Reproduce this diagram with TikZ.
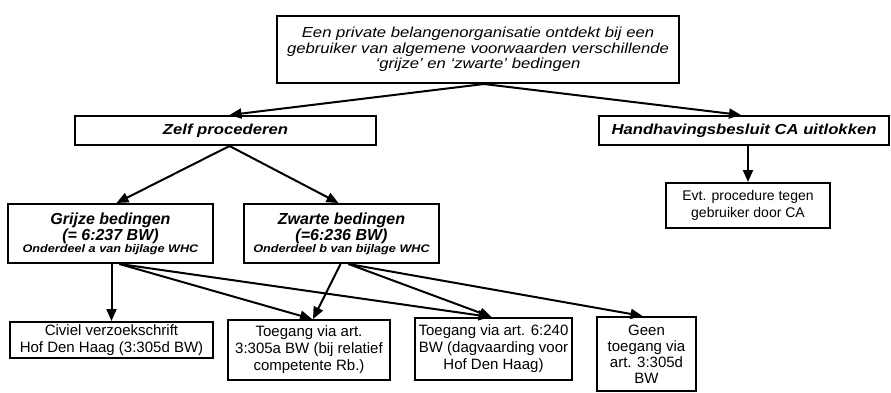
\documentclass[tikz,border=0pt]{standalone}
\usepackage{fontspec}
\setmainfont{Liberation Sans}
\newfontfamily\widefont[FakeStretch=1.15]{Liberation Sans}
\usetikzlibrary{shapes,arrows,arrows.meta}
\tikzstyle{block} = [rectangle, draw, line width=2pt, align=center,
    inner sep=0pt]
\tikzstyle{head} = [block, font=\fontsize{14.5}{17}\selectfont\widefont\bfseries\itshape]
\tikzstyle{rule} = [block, font=\bfseries\itshape]
\tikzstyle{leaf} = [block, font=\fontsize{15}{17}\selectfont]
\tikzstyle{line} = [draw, line width=2pt, -{Triangle[length=12pt,width=10pt]}]

\begin{document}
\begin{tikzpicture}[x=1pt, y=-1pt]
    \useasboundingbox (0,0) rectangle (891,392);
    % Place nodes
    \node [block, minimum width=402pt, minimum height=67pt,
        font=\fontsize{14.5}{15.5}\selectfont\widefont\itshape] (init) at (478,49.5)
        {Een private belangenorganisatie ontdekt bij een\\
         gebruiker van algemene voorwaarden verschillende\\
         ‘grijze’ en ‘zwarte’ bedingen};
    \node [head, minimum width=301pt, minimum height=29pt] (zelf) at (225.5,130.5) {Zelf procederen};
    \node [head, minimum width=290pt, minimum height=29pt] (ca) at (744,130.5) {Handhavingsbesluit CA uitlokken};
    \node [leaf, minimum width=164pt, minimum height=45pt,
        font=\fontsize{14}{17}\selectfont] (evt) at (748,205.5)
        {Evt. procedure tegen\\ gebruiker door CA};
    \node [rule, minimum width=205pt, minimum height=59pt] (grijs) at (110.5,233.5)
        {\fontsize{16}{17}\selectfont Grijze bedingen\\
         \fontsize{16}{16}\selectfont (= 6:237 BW)\\
         \fontsize{11}{15}\selectfont\widefont Onderdeel a van bijlage WHC};
    \node [rule, minimum width=195pt, minimum height=59pt] (zwart) at (341.5,233.5)
        {\fontsize{16}{17}\selectfont Zwarte bedingen\\
         \fontsize{16}{16}\selectfont (=6:236 BW)\\
         \fontsize{11}{15}\selectfont\widefont Onderdeel b van bijlage WHC};
    \node [leaf, minimum width=203pt, minimum height=36pt] (civiel) at (111.5,340)
        {Civiel verzoekschrift\\ Hof Den Haag (3:305d BW)};
    \node [leaf, minimum width=162pt, minimum height=60pt] (rb) at (309,350)
        {Toegang via art.\\ 3:305a BW (bij relatief\\ competente Rb.)};
    \node [leaf, minimum width=157pt, minimum height=62pt] (hof) at (493.5,349)
        {Toegang via art. 6:240\\ BW (dagvaarding voor\\ Hof Den Haag)};
    \node [leaf, minimum width=99pt, minimum height=74pt,
        font=\fontsize{15}{16}\selectfont] (geen) at (646.5,354)
        {Geen\\ toegang via\\ art. 3:305d\\ BW};
    % Draw edges
    \path [line] ([xshift=6pt]init.south) -- ([xshift=4pt]zelf.north);
    \path [line] ([xshift=6pt]init.south) -- ([xshift=-3pt]ca.north);
    \path [line] ([xshift=4pt]ca.south) -- (evt.north);
    \path [line] ([xshift=4pt]zelf.south) -- ([xshift=6pt]grijs.north);
    \path [line] ([xshift=4pt]zelf.south) -- ([xshift=-3pt]zwart.north);
    \path [line] ([xshift=1pt]grijs.south) -- (civiel.north);
    \path [line] ([xshift=9pt]grijs.south) -- ([xshift=3pt]rb.north);
    \path [line] ([xshift=9pt]grijs.south) -- ([xshift=-3pt]hof.north);
    \path [line] ([xshift=-1pt]zwart.south) -- ([xshift=4pt]rb.north);
    \path [line] ([xshift=7pt]zwart.south) -- ([xshift=-2pt]hof.north);
    \path [line] ([xshift=7pt]zwart.south) -- ([xshift=-4pt]geen.north);
\end{tikzpicture}
\end{document}
